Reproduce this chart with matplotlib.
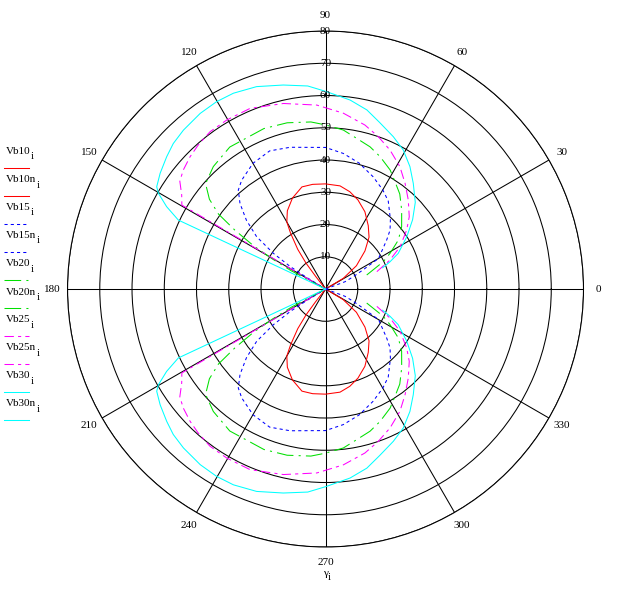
import numpy as np
import matplotlib
matplotlib.use('Agg')
import matplotlib.pyplot as plt
from matplotlib.lines import Line2D

plt.rcParams['font.family'] = ['Liberation Serif', 'DejaVu Serif']

# Upper lobes (angle in degrees, radius), the "n" series are the mirrored lower lobes
ang_vb10 = [28, 31, 37, 44, 50, 56, 63, 70, 76, 82, 90, 97, 103, 110, 116, 120, 122, 125, 127, 128, 129]
r_vb10 = [0, 6.4, 12, 17, 21, 23.7, 26.9, 29.4, 31.1, 32.3, 32.6, 32.7, 32.5, 30, 27, 24, 20.5, 15, 10, 5, 0]

ang_vb15 = [20, 20.5, 24, 27, 30, 38.7, 42.4, 47, 54.5, 60, 67, 75, 82.5, 90, 104, 112, 120,
            127.6, 131.4, 135, 139, 142.8, 145.6, 147.5, 148.5, 150]
r_vb15 = [0, 6.5, 9.5, 13, 19, 24.3, 27.1, 29.5, 33.5, 35.5, 37.8, 40.4, 42.4, 43.9, 45.3, 46.2, 45,
          42.6, 40.9, 37.5, 32.5, 26.8, 19.6, 13, 7, 0]

ang_vb20 = [18.8, 25.3, 29, 33.9, 39.3, 46, 52, 57, 61.5, 67.6, 72.6, 78.3, 83.6, 90, 95, 103, 111, 124,
            132.5, 138.7, 142.3, 145, 147, 149, 150.5, 152, 155]
r_vb20 = [13.5, 19.8, 22.9, 27.2, 30.5, 34, 37.4, 39.6, 42, 44.4, 46.2, 47.7, 49.6, 50.9, 52, 52.9, 53.3, 53.1,
          51.5, 49.5, 45.5, 40.5, 33.5, 26, 19, 12, 0]

ang_vb25 = [18.7, 24.2, 29.6, 36, 40.8, 47.1, 53, 58.7, 65.1, 70.9, 76.5, 84.2, 92.7, 102.8, 112.7,
            120.3, 126.3, 131.5, 135.7, 140.1, 143.5, 146.8, 149.7, 150]
r_vb25 = [16.8, 21.9, 26.6, 31.1, 34.3, 37.7, 41, 44.4, 47.5, 50, 52.3, 54.8, 57.1, 59, 60.7,
          60.7, 60.5, 59.6, 58.7, 57.5, 56.2, 53.3, 51.6, 0]

ang_vb30 = [20.4, 22.9, 26.1, 32.8, 38.5, 44, 50.3, 55.4, 60.8, 66, 72, 77, 82.6, 89.7, 95, 101.7, 108.8,
            115.2, 120.2, 125.5, 131.8, 136.3, 140.2, 145, 148.8, 150.2, 152.6, 154.9, 155]
r_vb30 = [18.9, 21.7, 25.1, 30, 34.5, 38.7, 42.6, 46.1, 49.4, 51.7, 54.3, 57, 59.1, 61.2, 63.2, 64.6, 66.3,
          67.1, 67.2, 66.9, 66.1, 65.3, 64.1, 62.6, 61.2, 59.7, 55.5, 50.4, 0]

rings = [10, 20, 30, 40, 50, 60, 70, 80]
spoke_deg = [0, 30, 60, 90, 120, 150, 180, 210, 240, 270, 300, 330]

series = [
    ('Vb10', ang_vb10, r_vb10, 'red', '-'),
    ('Vb15', ang_vb15, r_vb15, 'blue', (0, (3, 3))),
    ('Vb20', ang_vb20, r_vb20, '#00e000', (0, (16, 5, 2, 5))),
    ('Vb25', ang_vb25, r_vb25, 'magenta', (0, (9, 4, 3, 4))),
    ('Vb30', ang_vb30, r_vb30, 'cyan', '-'),
]

LW = 0.75

fig = plt.figure(figsize=(6.43, 5.99), dpi=100)
ax = fig.add_axes([0.105, 0.0868, 0.8025, 0.8614], projection='polar')
ax.set_ylim(0, 80)
ax.set_yticks(rings)
ax.set_yticklabels([])
ax.set_xticks(np.deg2rad(spoke_deg))
ax.set_xticklabels([])
ax.grid(True, color='black', lw=LW, ls='-')
ax.spines['polar'].set_linewidth(LW)
ax.spines['polar'].set_color('black')

for name, ang, r, col, ls in series:
    th = np.deg2rad(ang)
    ax.plot(th, r, color=col, ls=ls, lw=LW)
    ax.plot(-th, r, color=col, ls=ls, lw=LW)

# radial labels along the 90 degree spoke
for v in rings:
    ax.text(np.pi / 2, v, str(v), ha='center', va='center', fontsize=8)

# angle labels outside the outer ring
for d in spoke_deg:
    ax.text(np.deg2rad(d), 84.7, str(d), ha='center', va='center', fontsize=8, clip_on=False)

# texts with a lowered "i" subscript
labels = []
gam = fig.text(325 / 643, 1 - 573 / 599, '\u03b3', ha='center', va='center', fontsize=8)
labels.append(gam)

row = 0
for name, ang, r, col, ls in series:
    for suffix in ['', 'n']:
        ty = 152 + 28 * row
        t = fig.text(6 / 643, 1 - ty / 599, name + suffix, ha='left', va='center', fontsize=8)
        labels.append(t)
        ly = 1 - (ty + 16) / 599
        fig.add_artist(Line2D([4 / 643, 29 / 643], [ly, ly], transform=fig.transFigure,
                              color=col, ls=ls, lw=LW))
        row += 1

fig.canvas.draw()
renderer = fig.canvas.get_renderer()
for t in labels:
    bb = t.get_window_extent(renderer)
    x = (bb.x1 + 0.5) / fig.bbox.width
    y = (bb.y0 + bb.height * 0.5 - 5) / fig.bbox.height
    fig.text(x, y, 'i', ha='left', va='center', fontsize=8)

fig.savefig('out.png', dpi=100)
